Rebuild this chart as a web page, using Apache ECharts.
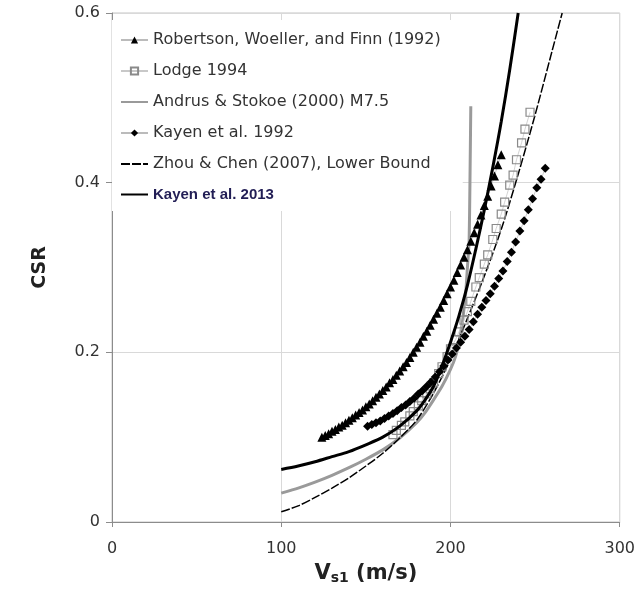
<!DOCTYPE html>
<html>
<head>
<meta charset="utf-8">
<script src="https://cdn.jsdelivr.net/npm/echarts@6/dist/echarts.min.js"></script>
<style>
  html, body { margin: 0; padding: 0; background: #fff; }
  #chart { width: 638px; height: 590px; }
</style>
</head>
<body>
<div id="chart"></div>
<script>
// values (Vs1 in m/s, CSR)
const robertsonV = [124,126,128,130,132,134,136,138,140,142,144,146,148,150,152,154,156,158,160,162,164,166,168,170,172,174,176,178,180,182,184,186,188,190,192,194,196,198,200,202,204,206,208,210,212,214,216,218,220,222,224,226,228,230]
const robertsonCSR = [0.100,0.102,0.104,0.107,0.109,0.112,0.114,0.117,0.120,0.123,0.126,0.129,0.132,0.136,0.139,0.143,0.147,0.151,0.155,0.159,0.164,0.168,0.173,0.178,0.183,0.188,0.194,0.200,0.206,0.212,0.219,0.225,0.232,0.239,0.246,0.253,0.261,0.269,0.277,0.285,0.294,0.303,0.312,0.321,0.331,0.341,0.351,0.362,0.373,0.384,0.396,0.408,0.421,0.433]

const lodgeV = [166,168,171,173,176,178,181,183,186,188,190,193,195,198,200,203,205,208,210,212,215,217,220,222,225,227,230,232,235,237,239,242,244,247]
const lodgeCSR = [0.103,0.108,0.114,0.118,0.125,0.130,0.137,0.143,0.151,0.157,0.164,0.175,0.183,0.195,0.204,0.215,0.224,0.238,0.248,0.260,0.277,0.288,0.304,0.315,0.333,0.346,0.363,0.377,0.397,0.409,0.427,0.447,0.463,0.483]

const andrusV = [100,110,120,130,140,150,160,170,180,185,190,195,200,203,205,207,208,209,210,211,211.5,212]
const andrusCSR = [0.034,0.040,0.047,0.055,0.064,0.074,0.085,0.099,0.117,0.129,0.144,0.160,0.180,0.195,0.212,0.235,0.252,0.270,0.300,0.330,0.400,0.490]

const kayen92V = [151,153.5,156,158.5,161,163.5,166,168.5,171,173.5,176,178.5,181,183.5,186,188.5,191,193.5,196,198.5,201,203.5,206,208.5,211,213.5,216,218.5,221,223.5,226,228.5,231,233.5,236,238.5,241,243.5,246,248.5,251,253.5,256]
const kayen92CSR = [0.113,0.115,0.117,0.119,0.122,0.125,0.128,0.131,0.135,0.138,0.142,0.146,0.151,0.155,0.160,0.165,0.171,0.177,0.184,0.191,0.198,0.205,0.212,0.219,0.227,0.236,0.245,0.253,0.261,0.269,0.278,0.287,0.296,0.307,0.318,0.330,0.343,0.355,0.368,0.381,0.394,0.404,0.417]

const zhouV = [100,110,120,130,140,150,160,170,180,190,200,210,220,230,240,250,260,266]
const zhouCSR = [0.012,0.019,0.029,0.040,0.052,0.066,0.081,0.099,0.120,0.152,0.192,0.240,0.290,0.345,0.410,0.480,0.555,0.600]

const kayen13V = [100,110,120,130,140,150,160,170,180,185,190,195,200,205,210,215,220,225,230,235,240]
const kayen13CSR = [0.062,0.066,0.071,0.077,0.083,0.091,0.100,0.113,0.131,0.144,0.160,0.184,0.212,0.243,0.279,0.322,0.368,0.418,0.472,0.533,0.600]

const xTicks = [0, 100, 200, 300]
const yTicks = [0, 0.2, 0.4, 0.6]

const names = [
  'Robertson, Woeller, and Finn (1992)',
  'Lodge 1994',
  'Andrus & Stokoe (2000) M7.5',
  'Kayen et al. 1992',
  'Zhou & Chen (2007), Lower Bound',
  'Kayen et al. 2013',
]

function pairs(xs, ys) {
  return xs.map((x, i) => [x, ys[i]])
}

const chart = echarts.init(document.getElementById('chart'), null, { renderer: 'canvas' })

const labelFont = 'DejaVu Sans'
// line-only legend entries: hide the marker ECharts puts on the icon
const noMarker = { color: 'rgba(0,0,0,0)', borderColor: 'rgba(0,0,0,0)', borderWidth: 0 }

let option = {
  animation: false,
  grid: {
    left: 112,
    right: 16,
    top: 13,
    bottom: 67,
    show: true,
    borderColor: '#c4c4c4',
    borderWidth: 1,
  },
  legend: {
    orient: 'vertical',
    left: 112,
    top: 20,
    padding: [12, 22, 9, 8],
    backgroundColor: '#fff',
    itemWidth: 27,
    itemHeight: 9,
    itemGap: 15,
    textStyle: {
      fontFamily: labelFont,
      fontSize: 16,
      color: '#333',
    },
    data: [
      names[0],
      names[1],
      { name: names[2], itemStyle: noMarker },
      names[3],
      { name: names[4], itemStyle: noMarker },
      {
        name: names[5],
        itemStyle: noMarker,
        textStyle: {
          fontFamily: 'Liberation Sans',
          fontWeight: 'bold',
          fontSize: 15,
          color: '#221e55',
        },
      },
    ],
  },
  xAxis: {
    type: 'value',
    min: xTicks[0],
    max: xTicks[xTicks.length - 1],
    interval: 100,
    name: '{v|V}{s|s1}{v| (m/s)}',
    nameLocation: 'middle',
    nameGap: 40,
    nameTextStyle: {
      rich: {
        v: { fontFamily: labelFont, fontWeight: 'bold', fontSize: 21, color: '#222' },
        s: { fontFamily: labelFont, fontWeight: 'bold', fontSize: 14, color: '#222', verticalAlign: 'bottom', padding: [9, 0, 0, 0] },
      },
    },
    axisLine: { lineStyle: { color: '#8c8c8c', width: 1 } },
    axisTick: { show: true, length: 5, lineStyle: { color: '#8c8c8c' } },
    axisLabel: { fontFamily: labelFont, fontSize: 16, color: '#333', margin: 19 },
    splitLine: { show: true, lineStyle: { color: '#d9d9d9', width: 1 } },
  },
  yAxis: {
    type: 'value',
    min: yTicks[0],
    max: yTicks[yTicks.length - 1],
    interval: 0.2,
    name: 'CSR',
    nameLocation: 'middle',
    nameGap: 62,
    nameTextStyle: { fontFamily: labelFont, fontWeight: 'bold', fontSize: 19, color: '#222' },
    axisLine: { show: true, lineStyle: { color: '#8c8c8c', width: 1 } },
    axisTick: { show: true, length: 6, lineStyle: { color: '#8c8c8c' } },
    axisLabel: {
      fontFamily: labelFont,
      fontSize: 16,
      color: '#333',
      margin: 12,
      formatter: function (v) { return v === 0 ? '0' : v.toFixed(1) },
    },
    splitLine: { show: true, lineStyle: { color: '#d9d9d9', width: 1 } },
  },
  series: [
    {
      name: names[2],
      type: 'line',
      data: pairs(andrusV, andrusCSR),
      smooth: 0.2,
      symbol: 'none',
      lineStyle: { color: '#9a9a9a', width: 3 },
      itemStyle: { color: '#9a9a9a' },
      z: 2,
    },
    {
      name: names[4],
      type: 'line',
      data: pairs(zhouV, zhouCSR),
      smooth: 0.3,
      symbol: 'none',
      lineStyle: { color: '#000', width: 1.5, type: [9, 2] },
      itemStyle: { color: '#000' },
      z: 3,
    },
    {
      name: names[1],
      type: 'line',
      data: pairs(lodgeV, lodgeCSR),
      symbol: 'rect',
      symbolSize: 8,
      lineStyle: { color: '#c8c8c8', width: 0.8 },
      itemStyle: { color: 'rgba(255,255,255,0)', borderColor: '#8a8a8a', borderWidth: 1.2 },
      z: 4,
    },
    {
      name: names[3],
      type: 'line',
      data: pairs(kayen92V, kayen92CSR),
      symbol: 'diamond',
      symbolSize: 9,
      lineStyle: { color: '#bbb', width: 0.8 },
      itemStyle: { color: '#000' },
      z: 5,
    },
    {
      name: names[0],
      type: 'line',
      data: pairs(robertsonV, robertsonCSR),
      symbol: 'triangle',
      symbolSize: 9,
      lineStyle: { color: '#bbb', width: 0.8 },
      itemStyle: { color: '#000' },
      z: 5,
    },
    {
      name: names[5],
      type: 'line',
      data: pairs(kayen13V, kayen13CSR),
      smooth: 0.3,
      symbol: 'none',
      lineStyle: { color: '#000', width: 3 },
      itemStyle: { color: '#000' },
      z: 6,
    },
  ],
}

chart.setOption(option)
</script>
</body>
</html>
